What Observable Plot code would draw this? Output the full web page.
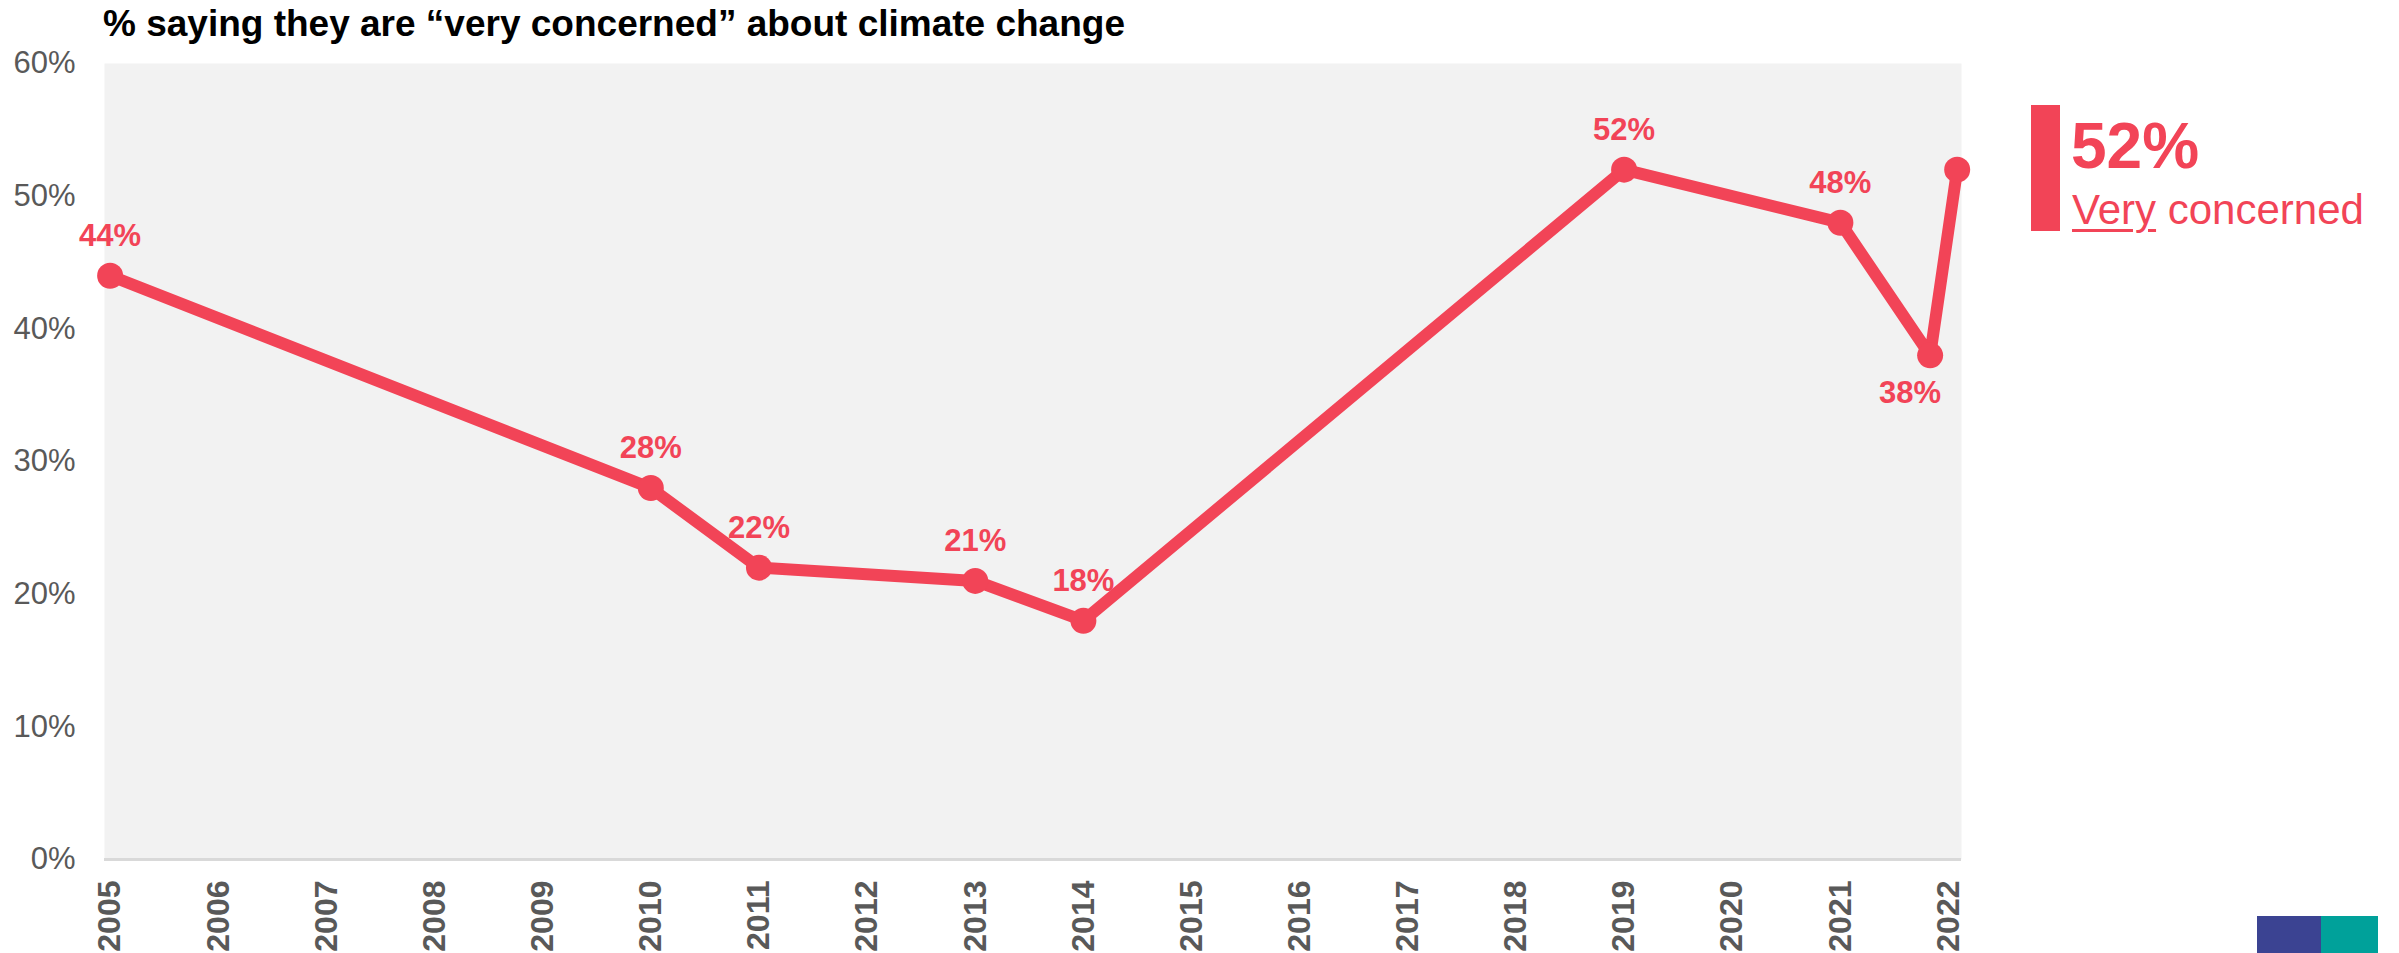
<!DOCTYPE html>
<html>
<head>
<meta charset="utf-8">
<script src="https://cdn.jsdelivr.net/npm/d3@7"></script>
<script src="https://cdn.jsdelivr.net/npm/@observablehq/plot@0.6"></script>
<style>
  html, body { margin: 0; padding: 0; background: #ffffff; }
  #wrap { position: relative; width: 2399px; height: 953px; overflow: hidden; font-family: "Liberation Sans", Arial, sans-serif; }
  #chart { position: absolute; left: 0; top: 0; }
  #title { position: absolute; left: 103px; top: 2px; font-size: 37px; font-weight: bold; color: #000; white-space: nowrap; line-height: 44px; }
  #legend-bar { position: absolute; left: 2031px; top: 105px; width: 29px; height: 126px; background: #F24457; }
  #legend-value { position: absolute; left: 2071px; top: 109px; font-size: 64px; font-weight: bold; color: #F24457; line-height: 74px; white-space: nowrap; }
  #legend-label { position: absolute; left: 2072px; top: 185px; font-size: 42px; color: #F24457; line-height: 50px; white-space: nowrap; }
  #legend-label u { text-decoration-thickness: 3px; text-underline-offset: 5px; }
  #logo-a { position: absolute; left: 2257px; top: 916px; width: 64px; height: 40px; background: #3B4392; }
  #logo-b { position: absolute; left: 2321px; top: 916px; width: 57px; height: 40px; background: #00A19A; }
</style>
</head>
<body>
<div id="wrap">
  <div id="chart"></div>
  <div id="title"></div>
  <div id="legend-bar"></div>
  <div id="legend-value"></div>
  <div id="legend-label"></div>
  <div id="logo-a"></div>
  <div id="logo-b"></div>
</div>
<script>
// ---- data ----
const titleText = "% saying they are \u201cvery concerned\u201d about climate change";
const years  = [2005, 2010, 2011, 2013, 2014, 2019, 2021, 2021.83, 2022.08];
const values = [44, 28, 22, 21, 18, 52, 48, 38, 52];
const xTickYears = [2005, 2006, 2007, 2008, 2009, 2010, 2011, 2012, 2013, 2014, 2015, 2016, 2017, 2018, 2019, 2020, 2021, 2022];
const yTickValues = [0, 10, 20, 30, 40, 50, 60];
const legendWords = ["Very", "concerned"];

// ---- build ----
const red = "#F24457";
const grey = "#595959";
const data = years.map((y, i) => ({year: y, value: values[i], i}));
const last = data.length - 1;
const aboveLabels = data.filter(d => d.i !== last && d.i !== last - 1);
const belowLabels = data.filter(d => d.i === last - 1);

document.getElementById("title").textContent = titleText;
document.getElementById("legend-value").textContent = values[last] + "%";
document.getElementById("legend-label").innerHTML = "<u>" + legendWords[0] + "</u> " + legendWords[1];

const chart = Plot.plot({
  width: 2399,
  height: 953,
  marginTop: 63,
  marginBottom: 94,
  marginLeft: 104,
  marginRight: 438,
  style: {fontFamily: "'Liberation Sans', Arial, sans-serif", background: "transparent", overflow: "visible"},
  x: {type: "linear", domain: [2004.948, 2022.12]},
  y: {domain: [0, 60]},
  marks: [
    Plot.frame({fill: "#F2F2F2", stroke: "none"}),
    Plot.ruleY([0], {stroke: "#D9D9D9", strokeWidth: 3}),
    Plot.axisY({ticks: yTickValues, tickFormat: d => d + "%", tickSize: 0, tickPadding: 29, fontSize: 31, color: grey, label: null}),
    Plot.axisX({ticks: xTickYears, tickFormat: d => String(d), tickRotate: -90, tickSize: 0, tickPadding: 21, fontSize: 32, fontWeight: "bold", color: grey, label: null}),
    Plot.line(data, {x: "year", y: "value", stroke: red, strokeWidth: 12, strokeLinejoin: "round", strokeLinecap: "round"}),
    Plot.dot(data, {x: "year", y: "value", r: 13, fill: red, stroke: "none"}),
    Plot.text(aboveLabels, {x: "year", y: "value", text: d => d.value + "%", lineAnchor: "bottom", dy: -30, fill: red, fontSize: 31, fontWeight: "bold"}),
    Plot.text(belowLabels, {x: "year", y: "value", text: d => d.value + "%", lineAnchor: "top", dy: 26, dx: -20, fill: red, fontSize: 31, fontWeight: "bold"})
  ]
});
document.getElementById("chart").appendChild(chart);
</script>
</body>
</html>
